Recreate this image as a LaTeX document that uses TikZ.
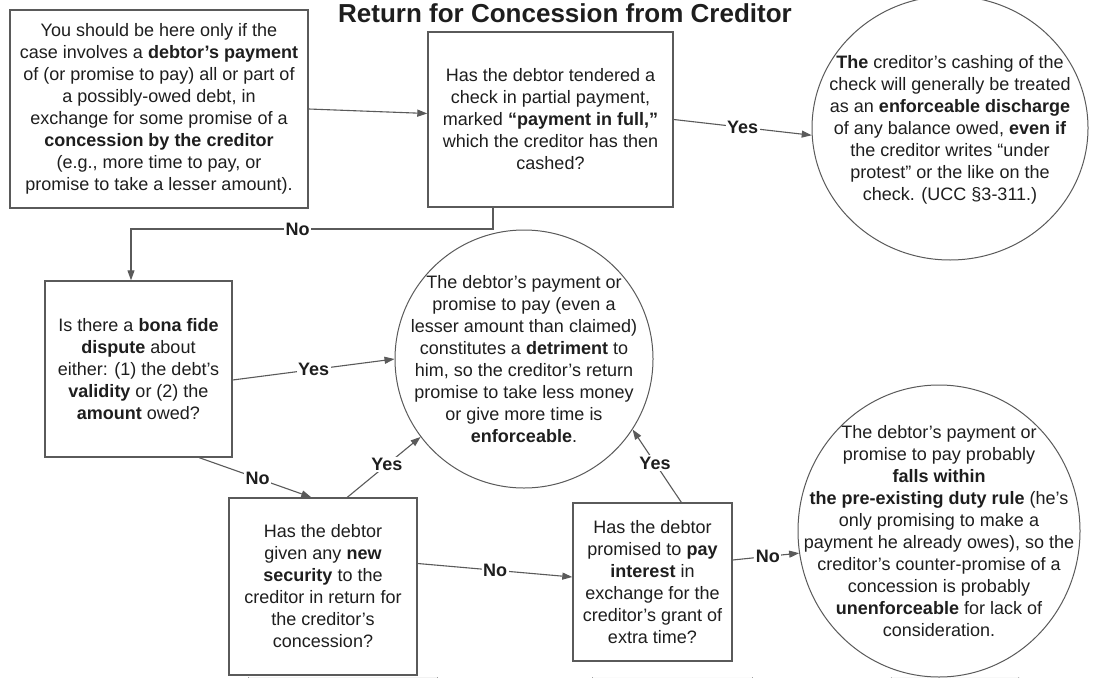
\documentclass[tikz,border=0pt]{standalone}
\usepackage{fontspec}
\setmainfont{Liberation Sans}
\usetikzlibrary{arrows.meta,calc,shapes.geometric}
\pgfdeclarelayer{bg}
\pgfsetlayers{bg,main}
\definecolor{ink}{HTML}{1E1E1E}
\definecolor{edge}{HTML}{5A5A5A}
\definecolor{shade}{HTML}{EEEEEE}

\begin{document}
\begin{tikzpicture}[x=1pt,y=-1pt,
  every node/.style={text=ink},
  qbox/.style={draw=edge, line width=1.4pt, fill=white, rectangle, inner sep=0pt,
               align=center, font=\fontsize{18}{22}\selectfont},
  outcome/.style={draw=edge, line width=1pt, fill=white, ellipse, inner sep=0pt},
  otext/.style={align=center, inner sep=0pt, font=\fontsize{18}{22}\selectfont},
  flow/.style={draw=edge, line width=1.1pt, -{Triangle[length=10pt,width=7pt]}},
  tag/.style={fill=white, inner sep=1.5pt, font=\bfseries\fontsize{18}{20}\selectfont},
]
\useasboundingbox (0,0) rectangle (1110,677);
\clip (0,0) rectangle (1110,677);
\fill[white] (0,0) rectangle (1110,677);

% title
\node[anchor=base, font=\bfseries\fontsize{26}{30}\selectfont] (title) at (565,23)
  {Return for Concession from Creditor};

% question boxes
\node[qbox, minimum width=298, minimum height=198] (b1) at (159,109)
  {You should be here only if the\\
   case involves a \textbf{debtor’s payment}\\
   of (or promise to pay) all or part of\\
   a possibly-owed debt, in\\
   exchange for some promise of a\\
   \textbf{concession by the creditor}\\
   (e.g., more time to pay, or\\
   promise to take a lesser amount).};

\node[qbox, minimum width=245, minimum height=175] (b2) at (550.5,119.5)
  {Has the debtor tendered a\\
   check in partial payment,\\
   marked \textbf{“payment in full,”}\\
   which the creditor has then\\
   cashed?};

\node[qbox, minimum width=187, minimum height=176] (b3) at (138.5,369)
  {Is there a \textbf{bona fide}\\
   \textbf{dispute} about\\
   either: (1) the debt’s\\
   \textbf{validity} or (2) the\\
   \textbf{amount} owed?};

\node[qbox, minimum width=188, minimum height=177] (b4) at (323,586.5)
  {Has the debtor\\
   given any \textbf{new}\\
   \textbf{security} to the\\
   creditor in return for\\
   the creditor’s\\
   concession?};

\node[qbox, minimum width=159, minimum height=158] (b5) at (652.5,582)
  {Has the debtor\\
   promised to \textbf{pay}\\
   \textbf{interest} in\\
   exchange for the\\
   creditor’s grant of\\
   extra time?};

% outcome ellipses
\node[outcome, minimum width=276, minimum height=264] (c1) at (950,128) {};
\node[otext] (t1) at ($(c1.center)+(0,2)$)
  {\textbf{The} creditor’s cashing of the\\
   check will generally be treated\\
   as an \textbf{enforceable discharge}\\
   of any balance owed, \textbf{even if}\\
   the creditor writes “under\\
   protest” or the like on the\\
   check. (UCC §3-311.)};

\node[outcome, minimum width=258, minimum height=258] (c2) at (524,359) {};
\node[otext] (t2) at (c2.center)
  {The debtor’s payment or\\
   promise to pay (even a\\
   lesser amount than claimed)\\
   constitutes a \textbf{detriment} to\\
   him, so the creditor’s return\\
   promise to take less money\\
   or give more time is\\
   \textbf{enforceable}.};

\node[outcome, minimum width=282, minimum height=292] (c3) at (939,531) {};
\node[otext] (t3) at (c3.center)
  {The debtor’s payment or\\
   promise to pay probably\\
   \textbf{falls within}\\
   \textbf{the pre-existing duty rule} (he’s\\
   only promising to make a\\
   payment he already owes), so the\\
   creditor’s counter-promise of a\\
   concession is probably\\
   \textbf{unenforceable} for lack of\\
   consideration.};

% drop shadows
\begin{pgfonlayer}{bg}
  \foreach \b in {b1,b2,b3,b4,b5}
    \fill[shade] ($(\b.north west)+(20,20)$) rectangle ($(\b.south east)+(20,20)$);
  \fill[shade] ($(c1.center)+(16,16)$) ellipse[x radius=138, y radius=132];
  \fill[shade] ($(c2.center)+(16,16)$) ellipse[x radius=129, y radius=129];
  \fill[shade] ($(c3.center)+(16,16)$) ellipse[x radius=141, y radius=146];
\end{pgfonlayer}

% connectors
\coordinate (n1) at (493,229);
\coordinate (n2) at (131,229);

\draw[flow] (b1.east) -- ($(b2.west)+(0,-6)$);
\draw[flow] (b2.east) -- node[tag]{Yes} (c1.183);
\draw[flow] (b2.south -| n1) -- (n1) -- node[tag,pos=0.54]{No} (n2) -- (n2 |- b3.north);
\draw[flow] ($(b3.east)+(0,11)$) -- node[tag]{Yes} (c2.west);
\draw[flow] ($(b3.south west)+(155,0)$) -- node[tag,pos=0.52]{No} ($(b4.north west)+(83,0)$);
\draw[flow] ($(b4.north west)+(119,0)$) -- node[tag,pos=0.54]{Yes} (c2.217);
\draw[flow] ($(b4.east)+(0,-23)$) -- node[tag]{No} ($(b5.west)+(0,-5)$);
\draw[flow] ($(b5.north west)+(109,0)$) -- node[tag,pos=0.54]{Yes} (c2.327);
\draw[flow] ($(b5.east)+(0,-22)$) -- node[tag,pos=0.53]{No} (c3.189);
\end{tikzpicture}
\end{document}
